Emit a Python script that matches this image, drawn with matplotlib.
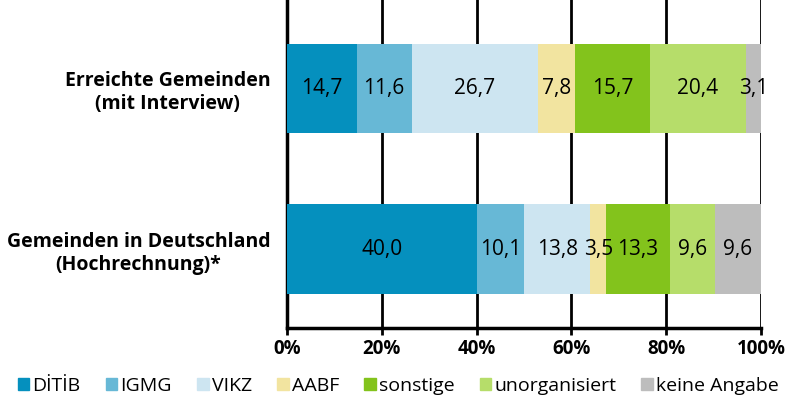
import matplotlib
matplotlib.use("Agg")
import matplotlib.pyplot as plt
from matplotlib.patches import Patch

plt.rcParams['font.family'] = ['Open Sans', 'DejaVu Sans']

# data
rows = ['Erreichte Gemeinden\n(mit Interview)', 'Gemeinden in Deutschland\n(Hochrechnung)*']
groups = ['DİTİB', 'IGMG', 'VIKZ', 'AABF', 'sonstige', 'unorganisiert', 'keine Angabe']
erreicht = [14.7, 11.6, 26.7, 7.8, 15.7, 20.4, 3.1]
deutschland = [40.0, 10.1, 13.8, 3.5, 13.3, 9.6, 9.6]
colors = ['#0590be', '#67b8d6', '#cde5f1', '#f2e4a0', '#83c31c', '#b6dd6a', '#bdbdbd']
ticks = [0, 20, 40, 60, 80, 100]

fig = plt.figure(figsize=(7.9, 4.0), dpi=100)
ax = fig.add_axes([0.3633, 0.18, 0.6, 0.82])

# bottom row is index 0 so the first label ends up on top
ypos = [1, 0]
series = [erreicht, deutschland]
for y, vals in zip(ypos, series):
    left = 0
    for v, c in zip(vals, colors):
        ax.barh(y, v, left=left, height=0.56, color=c, zorder=3)
        ax.text(left + v / 2, y, f'{v:.1f}'.replace('.', ','),
                ha='center', va='center', fontsize=15, zorder=4)
        left += v

ax.set_xlim(0, 100)
ax.set_ylim(-0.492, 1.551)
ax.set_xticks(ticks)
ax.set_xticklabels([f'{t}%' for t in ticks], fontsize=13.5, fontweight='bold')
ax.set_yticks(ypos)
ax.set_yticklabels(rows, fontsize=14, fontweight='bold')
for lab in ax.get_yticklabels():
    lab.set_multialignment('center')
ax.tick_params(axis='y', length=0, pad=12)
ax.tick_params(axis='x', length=5, width=2, pad=3)
ax.grid(axis='x', color='black', linewidth=2, zorder=1)
for s in ['top', 'right']:
    ax.spines[s].set_visible(False)
for s in ['left', 'bottom']:
    ax.spines[s].set_linewidth(2.5)

handles = [Patch(color=c) for c in colors]
fig.legend(handles, groups, loc='center', bbox_to_anchor=(0.504, 0.035), ncol=7,
           frameon=False, fontsize=14, handlelength=0.6, handleheight=0.6,
           handletextpad=0.15, columnspacing=1.3, borderaxespad=0)

fig.savefig('out.png', dpi=100)
